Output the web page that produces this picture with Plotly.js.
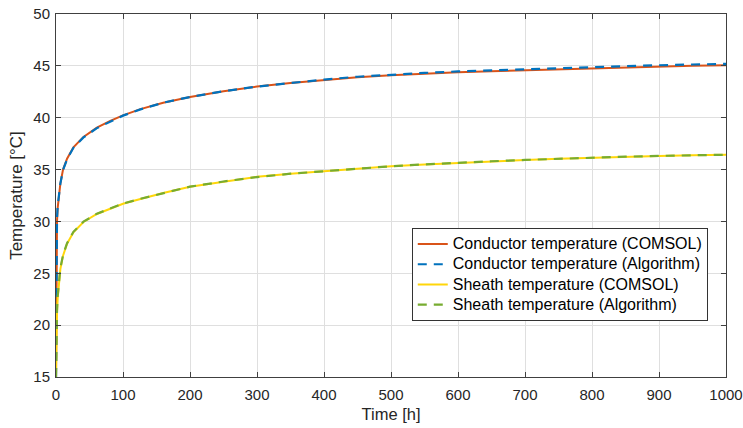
<!DOCTYPE html>
<html>
<head>
<meta charset="utf-8">
<script src="https://cdn.plot.ly/plotly-3.0.1.min.js"></script>
<style>html,body{margin:0;padding:0;background:#fff;}#chart{width:743px;height:428px;}</style>
</head>
<body>
<div id="chart"></div>
<script>
// Time [h]
const timeH = [0, 0.2, 0.5, 1, 1.5, 2.5, 4, 6.5, 10.5, 16.5, 26, 41, 61, 81, 100, 126, 160, 200, 250, 300, 350, 400, 450, 500, 550, 600, 650, 700, 750, 800, 850, 900, 950, 1000];
// Conductor temperature (COMSOL)
const conductorComsol = [15, 21, 25.5, 28.8, 30, 31.3, 32.4, 33.65, 35.0, 36.05, 37.15, 38.15, 39.05, 39.7, 40.22, 40.83, 41.45, 42.0, 42.55, 43.0, 43.35, 43.65, 43.9, 44.1, 44.26, 44.38, 44.48, 44.57, 44.68, 44.79, 44.88, 44.96, 45.01, 45.06];
// Conductor temperature (Algorithm)
const conductorAlgorithm = [15, 21.5, 26, 29.2, 30.3, 31.5, 32.5, 33.65, 34.95, 36.0, 37.1, 38.1, 39.0, 39.65, 40.2, 40.8, 41.45, 42.0, 42.55, 43.0, 43.37, 43.68, 43.95, 44.16, 44.32, 44.46, 44.57, 44.67, 44.79, 44.9, 44.98, 45.06, 45.13, 45.19];
// Sheath temperature (COMSOL)
const sheathComsol = [15, 17, 18.8, 20.3, 21.2, 22.6, 24.0, 25.4, 26.7, 27.85, 28.95, 29.95, 30.72, 31.25, 31.7, 32.17, 32.75, 33.35, 33.85, 34.3, 34.6, 34.85, 35.1, 35.32, 35.5, 35.66, 35.78, 35.92, 36.04, 36.15, 36.23, 36.31, 36.37, 36.42];
// Sheath temperature (Algorithm)
const sheathAlgorithm = [15, 17.3, 19.1, 20.6, 21.4, 22.8, 24.1, 25.5, 26.75, 27.9, 29.0, 29.98, 30.74, 31.27, 31.72, 32.18, 32.75, 33.35, 33.85, 34.28, 34.6, 34.85, 35.1, 35.32, 35.5, 35.67, 35.8, 35.93, 36.05, 36.16, 36.24, 36.32, 36.38, 36.43];

const seriesNames = ['Conductor temperature (COMSOL)', 'Conductor temperature (Algorithm)', 'Sheath temperature (COMSOL)', 'Sheath temperature (Algorithm)'];
const xTicks = [0, 100, 200, 300, 400, 500, 600, 700, 800, 900, 1000];
const yTicks = [15, 20, 25, 30, 35, 40, 45, 50];

const legendLabel = s => '<span style="font-size:16px">' + s + '</span>';

const traces = [
  {x: timeH, y: conductorComsol, name: legendLabel(seriesNames[0]), mode: 'lines', line: {color: '#D95319', width: 2}},
  {x: timeH, y: conductorAlgorithm, name: legendLabel(seriesNames[1]), mode: 'lines', line: {color: '#0072BD', width: 2.2, dash: '9px,7px'}},
  {x: timeH, y: sheathComsol, name: legendLabel(seriesNames[2]), mode: 'lines', line: {color: '#FFD60A', width: 2}},
  {x: timeH, y: sheathAlgorithm, name: legendLabel(seriesNames[3]), mode: 'lines', line: {color: '#77AC30', width: 2.2, dash: '9px,7px'}}
];

const axisCommon = {
  showline: true, mirror: 'ticks', linecolor: '#404040', linewidth: 1,
  ticks: 'inside', ticklen: 5, tickcolor: '#404040', tickwidth: 1,
  showgrid: true, gridcolor: '#dfdfdf', gridwidth: 1, zeroline: false,
  tickfont: {family: 'Arial, Liberation Sans, sans-serif', size: 15, color: '#262626'}
};

const layout = {
  width: 743, height: 428,
  margin: {l: 56, r: 17, t: 14, b: 51},
  paper_bgcolor: '#ffffff', plot_bgcolor: '#ffffff',
  font: {family: 'Arial, Liberation Sans, sans-serif', color: '#262626'},
  showlegend: true,
  xaxis: Object.assign({}, axisCommon, {
    range: [0, 1000], tickvals: xTicks, ticktext: xTicks.map(String),
    ticklabelstandoff: 4,
    title: {text: 'Time [h]', font: {size: 16.5, color: '#262626'}, standoff: 6}
  }),
  yaxis: Object.assign({}, axisCommon, {
    range: [15, 50], tickvals: yTicks, ticktext: yTicks.map(String),
    ticklabelstandoff: 2,
    title: {text: 'Temperature [°C]', font: {size: 17, color: '#262626'}, standoff: 6}
  }),
  legend: {
    x: 0.531, y: 0.4105, xanchor: 'left', yanchor: 'top',
    bgcolor: '#ffffff', bordercolor: '#333333', borderwidth: 1,
    font: {family: 'Arial, Liberation Sans, sans-serif', size: 13.2, color: '#000000'},
    tracegroupgap: 0
  }
};

Plotly.newPlot('chart', traces, layout, {displayModeBar: false, staticPlot: true});
</script>
</body>
</html>
